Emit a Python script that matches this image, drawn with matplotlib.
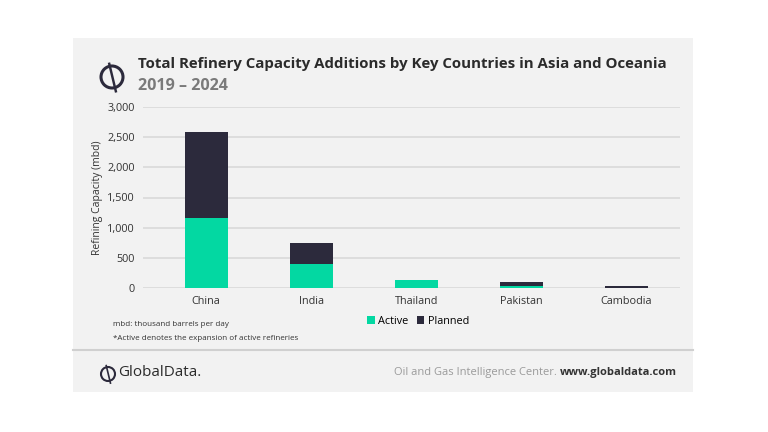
import matplotlib.pyplot as plt
from matplotlib.patches import Rectangle, Ellipse
from matplotlib.lines import Line2D

countries = ['China', 'India', 'Thailand', 'Pakistan', 'Cambodia']
active = [1160, 395, 130, 25, 5]
planned = [1420, 355, 0, 75, 35]
yticks = [0, 500, 1000, 1500, 2000, 2500, 3000]

GREEN = '#03D8A2'
DARK = '#2C2A3C'
BG = '#F2F2F2'

W, H = 768, 432
fig = plt.figure(figsize=(W / 100, H / 100), dpi=100)
fig.patch.set_facecolor('white')
plt.rcParams['font.family'] = ['Open Sans', 'DejaVu Sans']

def fx(px):
    return px / W

def fy(py):
    return 1 - py / H

def logo(cx, cy, r, lw):
    fig.patches.append(Ellipse((fx(cx), fy(cy)), 2 * r / W, 2 * r / H, transform=fig.transFigure,
                               facecolor='none', edgecolor=DARK, linewidth=lw, zorder=2))
    fig.lines.append(Line2D([fx(cx - 0.25 * r), fx(cx + 0.35 * r)], [fy(cy - 1.2 * r), fy(cy + 1.3 * r)],
                            transform=fig.transFigure, color=DARK, linewidth=lw * 0.8, zorder=2))

# grey panel + footer divider
fig.patches.append(Rectangle((fx(73), fy(392)), fx(693) - fx(73), fy(38) - fy(392),
                             transform=fig.transFigure, facecolor=BG, edgecolor='none', zorder=0))
fig.lines.append(Line2D([fx(73), fx(693)], [fy(350), fy(350)], transform=fig.transFigure,
                        color='#D0D0D0', linewidth=1.5))

logo(112, 77, 11, 2.2)
fig.text(fx(138), fy(64), 'Total Refinery Capacity Additions by Key Countries in Asia and Oceania',
         fontsize=10.8, fontweight='bold', color='#2B2B2B', va='center', ha='left')
fig.text(fx(138), fy(86), '2019 \u2013 2024', fontsize=11.6, fontweight='bold',
         color='#7A7A7A', va='center', ha='left')

ax = fig.add_axes([fx(143), fy(288), fx(680) - fx(143), fy(107) - fy(288)], zorder=1)
ax.set_facecolor('none')
x = list(range(len(countries)))
ax.bar(x, active, width=0.41, color=GREEN, label='Active', zorder=3)
ax.bar(x, planned, width=0.41, bottom=active, color=DARK, label='Planned', zorder=3)
ax.set_xlim(-0.6, 4.51)
ax.set_ylim(0, 3000)
ax.set_yticks(yticks)
ax.set_yticklabels([f'{v:,}' for v in yticks])
ax.set_xticks(x)
ax.set_xticklabels(countries)
ax.yaxis.grid(True, color='#D9D9D9', linewidth=1.2, zorder=0)
ax.set_axisbelow(True)
ax.tick_params(length=0, labelsize=7.8, colors='#333333')
ax.tick_params(axis='x', pad=6)
ax.tick_params(axis='y', pad=6)
for s in ax.spines.values():
    s.set_visible(False)
ax.set_ylabel('Refining Capacity (mbd)', fontsize=7.5, color='#333333', labelpad=3)

leg = ax.legend(loc='center', bbox_to_anchor=(fx(418), fy(321)), bbox_transform=fig.transFigure,
                ncol=2, frameon=False, fontsize=7.8, handlelength=0.7, handleheight=0.7,
                handletextpad=0.3, columnspacing=0.8)

fig.text(fx(113), fy(325), 'mbd: thousand barrels per day', fontsize=5.8, color='#333333', va='center')
fig.text(fx(113), fy(338), '*Active denotes the expansion of active refineries', fontsize=5.8,
         color='#333333', va='center')

# footer
logo(108, 374, 7, 1.5)
fig.text(fx(118), fy(373), 'GlobalData.', fontsize=11, color='#2B2B2B', va='center', ha='left')
fig.text(fx(677), fy(373), 'www.globaldata.com', fontsize=8, color='#333333',
         fontweight='bold', va='center', ha='right')
fig.text(fx(557), fy(373), 'Oil and Gas Intelligence Center.', fontsize=8, color='#9A9A9A',
         va='center', ha='right')

fig.savefig('out.png', dpi=100, facecolor='white')
